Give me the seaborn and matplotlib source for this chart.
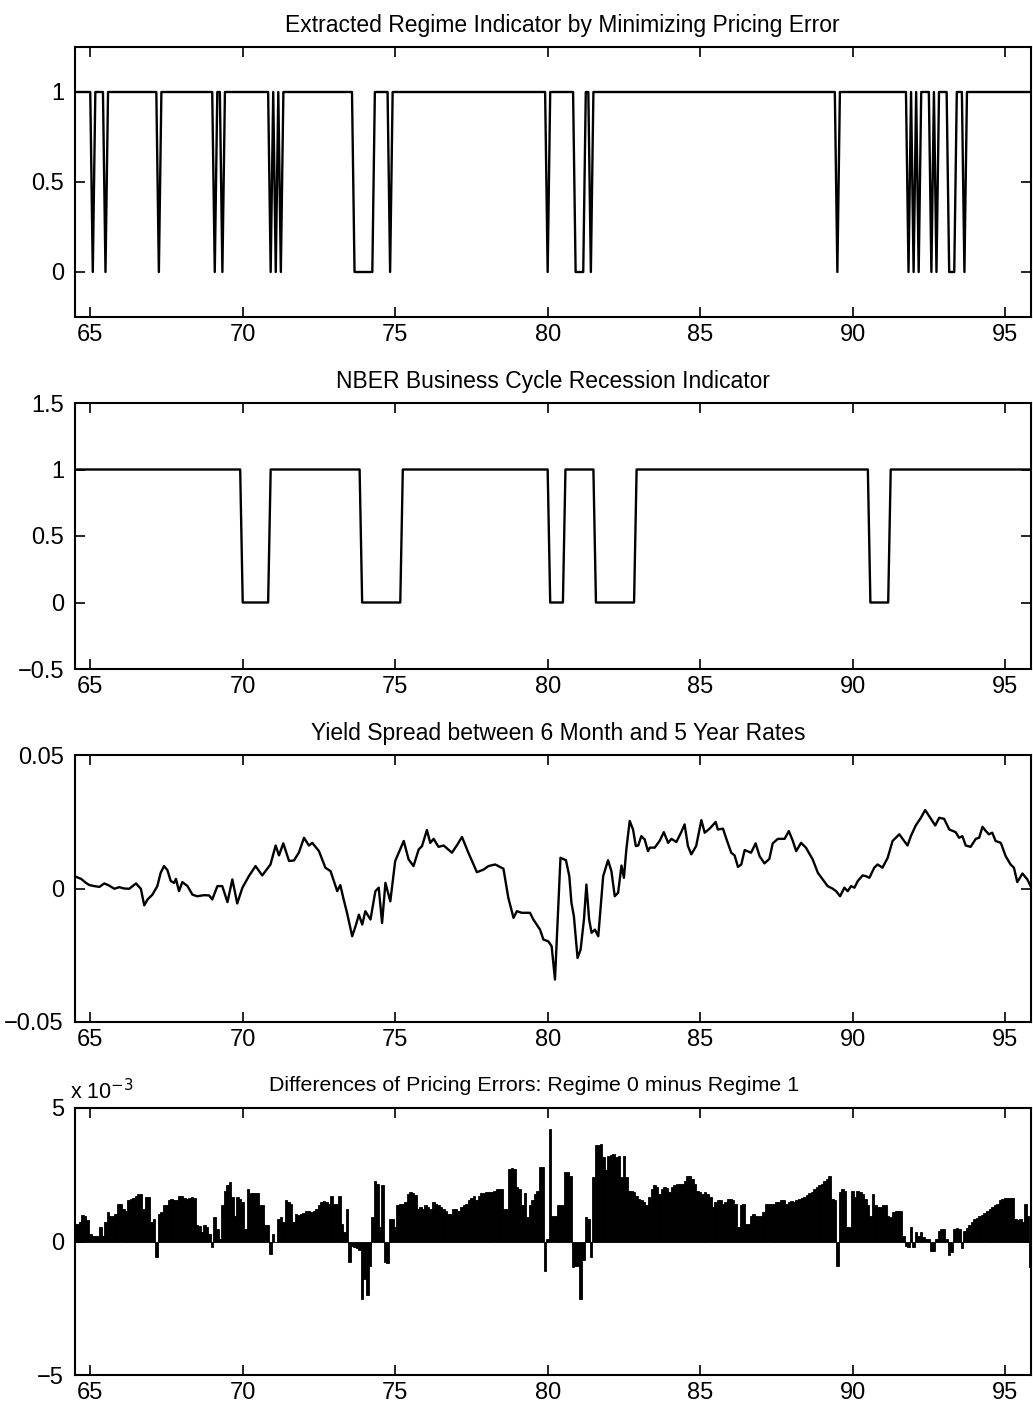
import numpy as np
import matplotlib
matplotlib.use("Agg")
import matplotlib.pyplot as plt
import seaborn as sns
from matplotlib.ticker import FuncFormatter

sns.set_style("ticks")
plt.rcParams['font.family'] = ['Liberation Sans', 'DejaVu Sans']
plt.rcParams['text.color'] = 'black'
plt.rcParams['axes.labelcolor'] = 'black'
plt.rcParams['xtick.color'] = 'black'
plt.rcParams['ytick.color'] = 'black'

# ---------------- data ----------------
START_YEAR = 64.5          # July 1964, monthly observations
N_MONTHS = 377

TITLES = [
    "Extracted Regime Indicator by Minimizing Pricing Error",
    "NBER Business Cycle Recession Indicator",
    "Yield Spread between 6 Month and 5 Year Rates",
    "Differences of Pricing Errors: Regime 0 minus Regime 1",
]
XTICKS = [65, 70, 75, 80, 85, 90, 95]

# months in which the extracted regime indicator is 0 (year fractions)
REGIME_ZERO_MONTHS = [65.083, 65.5, 67.25, 69.083, 69.333, 70.917, 71.083, 71.25,
                      73.667, 73.75, 73.833, 73.917, 74.0, 74.083, 74.167, 74.25,
                      74.833, 80.0, 80.917, 81.0, 81.083, 81.167, 81.417, 89.5,
                      91.833, 92.0, 92.167, 92.583, 92.75, 93.167, 93.25, 93.333,
                      93.667]

# NBER recessions (indicator = 0), first and last month
NBER_START = [70.0, 73.917, 80.083, 81.583, 90.583]
NBER_END = [70.833, 75.167, 80.5, 82.833, 91.167]

# yield spread (year, value)
SPREAD_T = [64.53, 64.70, 64.86, 64.97, 65.13, 65.30, 65.46, 65.62, 65.79, 65.95,
            66.11, 66.28, 66.50, 66.66, 66.77, 66.88, 67.04, 67.20, 67.31, 67.42,
            67.53, 67.64, 67.75, 67.81, 67.91, 68.02, 68.19, 68.35, 68.51, 68.73,
            68.90, 69.00, 69.17, 69.33, 69.50, 69.66, 69.82, 69.99, 70.20, 70.42,
            70.64, 70.91, 71.08, 71.19, 71.33, 71.52, 71.68, 71.84, 72.01, 72.17,
            72.28, 72.50, 72.71, 72.88, 73.10, 73.20, 73.31, 73.42, 73.59, 73.70,
            73.81, 73.92, 74.02, 74.19, 74.35, 74.46, 74.57, 74.68, 74.84, 75.00,
            75.28, 75.44, 75.60, 75.77, 75.88, 76.04, 76.15, 76.26, 76.42, 76.59,
            76.86, 77.02, 77.19, 77.40, 77.68, 77.90, 78.06, 78.28, 78.55, 78.71,
            78.88, 78.99, 79.15, 79.42, 79.53, 79.75, 79.86, 80.02, 80.13, 80.24,
            80.35, 80.42, 80.60, 80.71, 80.78, 80.86, 80.98, 81.08, 81.19, 81.27,
            81.36, 81.44, 81.55, 81.66, 81.82, 81.98, 82.09, 82.20, 82.31, 82.42,
            82.50, 82.58, 82.69, 82.80, 82.89, 82.97, 83.07, 83.18, 83.29, 83.35,
            83.51, 83.67, 83.81, 83.95, 84.06, 84.22, 84.38, 84.49, 84.60, 84.71,
            84.87, 85.04, 85.15, 85.31, 85.51, 85.58, 85.75, 85.86, 86.02, 86.13,
            86.24, 86.35, 86.46, 86.67, 86.82, 86.95, 87.11, 87.27, 87.38, 87.55,
            87.77, 87.91, 88.04, 88.15, 88.31, 88.47, 88.69, 88.86, 89.02, 89.18,
            89.35, 89.46, 89.59, 89.73, 89.84, 89.95, 90.06, 90.17, 90.33, 90.44,
            90.55, 90.71, 90.82, 90.98, 91.15, 91.31, 91.53, 91.69, 91.80, 91.91,
            92.07, 92.24, 92.38, 92.51, 92.71, 92.84, 93.00, 93.17, 93.38, 93.49,
            93.60, 93.71, 93.87, 94.04, 94.15, 94.26, 94.37, 94.47, 94.58, 94.69,
            94.86, 95.02, 95.18, 95.29, 95.40, 95.57, 95.73, 95.88]
SPREAD_V = [0.0044, 0.0036, 0.0021, 0.0013, 0.0009, 0.0006, 0.0019, 0.0011, -0.0001, 0.0005,
            0.0000, -0.0001, 0.0019, -0.0001, -0.0063, -0.0041, -0.0023, 0.0009, 0.0059, 0.0084,
            0.0069, 0.0028, 0.0021, 0.0036, -0.0010, 0.0024, 0.0009, -0.0023, -0.0029, -0.0025,
            -0.0026, -0.0041, 0.0009, 0.0009, -0.0051, 0.0034, -0.0056, 0.0003, 0.0046, 0.0084,
            0.0049, 0.0090, 0.0161, 0.0124, 0.0169, 0.0103, 0.0105, 0.0134, 0.0190, 0.0161,
            0.0171, 0.0140, 0.0078, 0.0065, -0.0010, 0.0013, -0.0041, -0.0091, -0.0179, -0.0141,
            -0.0098, -0.0135, -0.0085, -0.0116, -0.0010, 0.0003, -0.0129, 0.0021, -0.0048, 0.0103,
            0.0178, 0.0109, 0.0084, 0.0146, 0.0159, 0.0219, 0.0171, 0.0186, 0.0156, 0.0161,
            0.0134, 0.0161, 0.0193, 0.0134, 0.0061, 0.0071, 0.0084, 0.0090, 0.0074, -0.0035,
            -0.0110, -0.0085, -0.0091, -0.0091, -0.0116, -0.0154, -0.0191, -0.0198, -0.0216, -0.0341,
            -0.0066, 0.0115, 0.0106, 0.0046, -0.0054, -0.0104, -0.0260, -0.0229, -0.0116, 0.0015,
            -0.0116, -0.0166, -0.0154, -0.0179, 0.0046, 0.0106, 0.0065, -0.0029, -0.0016, 0.0086,
            0.0040, 0.0146, 0.0253, 0.0221, 0.0159, 0.0161, 0.0196, 0.0184, 0.0140, 0.0153,
            0.0153, 0.0178, 0.0211, 0.0171, 0.0186, 0.0174, 0.0211, 0.0240, 0.0159, 0.0128,
            0.0159, 0.0256, 0.0209, 0.0224, 0.0249, 0.0221, 0.0224, 0.0186, 0.0134, 0.0124,
            0.0081, 0.0090, 0.0144, 0.0134, 0.0169, 0.0121, 0.0094, 0.0111, 0.0169, 0.0186,
            0.0186, 0.0215, 0.0178, 0.0140, 0.0171, 0.0153, 0.0109, 0.0059, 0.0034, 0.0009,
            -0.0001, -0.0010, -0.0029, 0.0003, -0.0010, 0.0009, 0.0003, 0.0028, 0.0049, 0.0046,
            0.0040, 0.0078, 0.0090, 0.0078, 0.0115, 0.0178, 0.0203, 0.0178, 0.0161, 0.0196,
            0.0236, 0.0265, 0.0294, 0.0271, 0.0236, 0.0265, 0.0261, 0.0221, 0.0211, 0.0190,
            0.0196, 0.0161, 0.0156, 0.0186, 0.0190, 0.0231, 0.0215, 0.0203, 0.0209, 0.0178,
            0.0171, 0.0121, 0.0090, 0.0078, 0.0024, 0.0056, 0.0034, -0.0001]

# monthly pricing-error differences, in units of 1e-3
DIFF_E3 = [
    0.66, 0.66, 0.72, 1.0, 0.95, 0.79, 0.29, 0.22, 0.22, 0.2,
    0.54, 0.2, 0.72, 1.1, 0.97, 0.97, 1.04, 1.41, 1.41, 1.22,
    1.16, 1.54, 1.6, 1.62, 1.72, 1.79, 1.79, 1.22, 1.66, 1.66,
    0.72, 0.85, -0.59, 1.04, 1.1, 1.35, 1.35, 1.57, 1.6, 1.54,
    1.54, 1.72, 1.7, 1.62, 1.6, 1.62, 1.66, 1.62, 0.6, 0.57,
    0.35, 0.6, 0.54, 0.29, -0.21, 0.91, 0.47, 0.1, 1.35, 1.91,
    2.1, 2.22, 1.66, 0.97, 1.66, 1.6, 1.47, 0.47, 1.97, 1.82,
    1.82, 1.82, 1.82, 1.35, 1.35, 0.6, 0.62, -0.46, 0.29, -0.02,
    0.85, 0.91, 0.72, 1.54, 1.47, 1.41, 0.72, 1.04, 1.0, 1.04,
    1.07, 1.16, 1.16, 1.12, 1.16, 1.22, 1.35, 1.47, 1.5, 1.47,
    1.41, 1.72, 1.41, 1.41, 1.7, 0.66, 0.35, 1.22, -0.77, -0.15,
    -0.2, -0.25, -0.3, -2.15, -1.4, -2.02, -0.9, 0.91, 2.28, 2.16,
    0.54, 2.1, -0.77, -0.8, 0.85, 0.85, 0.54, 1.35, 1.41, 1.41,
    1.47, 1.79, 1.85, 1.82, 1.75, 1.22, 1.29, 1.22, 1.35, 1.29,
    1.22, 1.47, 1.41, 1.35, 1.29, 1.22, 1.16, 1.04, 1.04, 1.22,
    1.2, 1.16, 1.29, 1.35, 1.41, 1.54, 1.62, 1.7, 1.54, 1.72,
    1.82, 1.82, 1.85, 1.85, 1.87, 1.91, 1.95, 1.97, 1.95, 1.22,
    1.22, 2.72, 2.75, 2.72, 2.03, 1.97, 1.35, 1.82, 0.91, 1.35,
    1.54, 1.79, 1.91, 2.78, 2.78, -1.12, 0.1, 4.2, 0.97, 0.97,
    1.37, 1.37, 1.37, 2.6, 2.6, 2.47, -0.96, -0.9, -0.9, -2.15,
    -0.71, 0.91, 0.85, -0.59, 2.41, 3.62, 3.6, 3.66, 3.16, 2.66,
    3.22, 3.25, 3.28, 3.16, 3.22, 2.41, 3.22, 2.41, 1.91, 1.91,
    1.85, 1.72, 1.6, 1.54, 1.47, 1.35, 1.66, 1.97, 2.1, 2.03,
    1.79, 1.97, 2.03, 2.0, 1.85, 2.03, 2.12, 2.16, 2.16, 2.16,
    2.28, 2.47, 2.47, 2.35, 2.16, 1.91, 1.85, 1.79, 1.85, 1.79,
    1.66, 1.29, 1.47, 1.54, 1.54, 1.41, 1.47, 1.6, 1.6, 1.54,
    1.41, 0.54, 1.35, 1.41, 0.66, 0.66, 0.97, 1.04, 0.95, 0.95,
    0.97, 1.12, 1.41, 1.41, 1.41, 1.41, 1.47, 1.47, 1.54, 1.54,
    1.41, 1.47, 1.5, 1.47, 1.54, 1.6, 1.62, 1.68, 1.75, 1.82,
    1.87, 1.97, 2.03, 2.1, 2.16, 2.25, 2.35, 2.45, 1.6, 1.54,
    -0.9, 1.85, 1.97, 1.91, 0.54, 0.54, 1.91, 1.66, 1.91, 1.87,
    1.79, 1.6, 1.35, 0.97, 1.79, 1.35, 1.29, 1.29, 1.37, 1.35,
    0.95, 0.91, 1.12, 1.16, 1.16, 1.16, 0.22, -0.15, -0.21, 0.54,
    -0.21, 0.37, 0.2, 0.35, 0.16, 0.1, 0.1, -0.37, -0.37, 0.1,
    0.41, 0.47, 0.45, 0.1, -0.5, -0.4, 0.47, 0.5, 0.45, -0.25,
    0.41, 0.5, 0.62, 0.72, 0.85, 0.87, 0.95, 1.0, 1.07, 1.16,
    1.22, 1.29, 1.35, 1.41, 1.54, 1.6, 1.62, 1.62, 1.62, 1.62,
    0.85, 0.79, 0.85, 0.72, 1.41, 0.97, -0.96,
]

# ---------------- derived series ----------------
months = START_YEAR + np.arange(N_MONTHS) / 12.0
regime = np.ones(N_MONTHS)
for z in REGIME_ZERO_MONTHS:
    regime[np.abs(months - z) < 1 / 24] = 0.0
nber = np.ones(N_MONTHS)
for s, e in zip(NBER_START, NBER_END):
    nber[(months > s - 1 / 24) & (months < e + 1 / 24)] = 0.0
diff = np.array(DIFF_E3)

# ---------------- figure ----------------
W, H = 1033, 1413
fig = plt.figure(figsize=(W / 100, H / 100), dpi=100)
LEFT_PX, RIGHT_PX = 75, 1031
PANELS_PX = [(47, 317), (403, 669), (755, 1022), (1108, 1375)]
axes = []
for top, bot in PANELS_PX:
    axes.append(fig.add_axes([LEFT_PX / W, 1 - bot / H,
                              (RIGHT_PX - LEFT_PX) / W, (bot - top) / H]))

def fmt(v, p):
    s = f"{v:g}"
    return s.replace("-", "\u2212")

YLIMS = [(-0.25, 1.25), (-0.5, 1.5), (-0.05, 0.05), (-5, 5)]
YTICKS = [[0, 0.5, 1], [-0.5, 0, 0.5, 1, 1.5], [-0.05, 0, 0.05], [-5, 0, 5]]
TITLE_X = [0.51, 0.5, 0.505, 0.48]
TITLE_SIZE = [16.5, 16.5, 16.5, 15.4]
TITLE_PAD = [11, 11, 11, 12]

sns.lineplot(x=months, y=regime, ax=axes[0], color="black", linewidth=1.7,
             estimator=None, sort=False)
sns.lineplot(x=months, y=nber, ax=axes[1], color="black", linewidth=1.7,
             estimator=None, sort=False)
sns.lineplot(x=SPREAD_T, y=SPREAD_V, ax=axes[2], color="black", linewidth=1.7,
             estimator=None, sort=False)
axes[3].bar(months, diff, width=1 / 12, color="black", edgecolor="black",
            linewidth=0.6)

for i, (ax, title, yl, yt) in enumerate(zip(axes, TITLES, YLIMS, YTICKS)):
    ax.set_xlim(64.5, 95.85)
    ax.set_ylim(*yl)
    ax.set_xticks(XTICKS)
    ax.set_yticks(yt)
    ax.xaxis.set_major_formatter(FuncFormatter(fmt))
    ax.yaxis.set_major_formatter(FuncFormatter(fmt))
    ax.tick_params(direction="in", top=True, right=True, length=7, width=1.2,
                   labelsize=17, pad=5, colors="black")
    ax.tick_params(axis="y", pad=8)
    for sp in ax.spines.values():
        sp.set_linewidth(1.5)
        sp.set_color("black")
        sp.set_visible(True)
    ax.set_xlabel("")
    ax.set_ylabel("")
    ax.set_title(title, fontsize=TITLE_SIZE[i], pad=TITLE_PAD[i], color="black",
                 x=TITLE_X[i])

axes[3].text(-0.005, 1.015, r"x 10$^{-3}$", transform=axes[3].transAxes,
             ha="left", va="bottom", fontsize=15.5)

fig.savefig("out.png", dpi=100)
